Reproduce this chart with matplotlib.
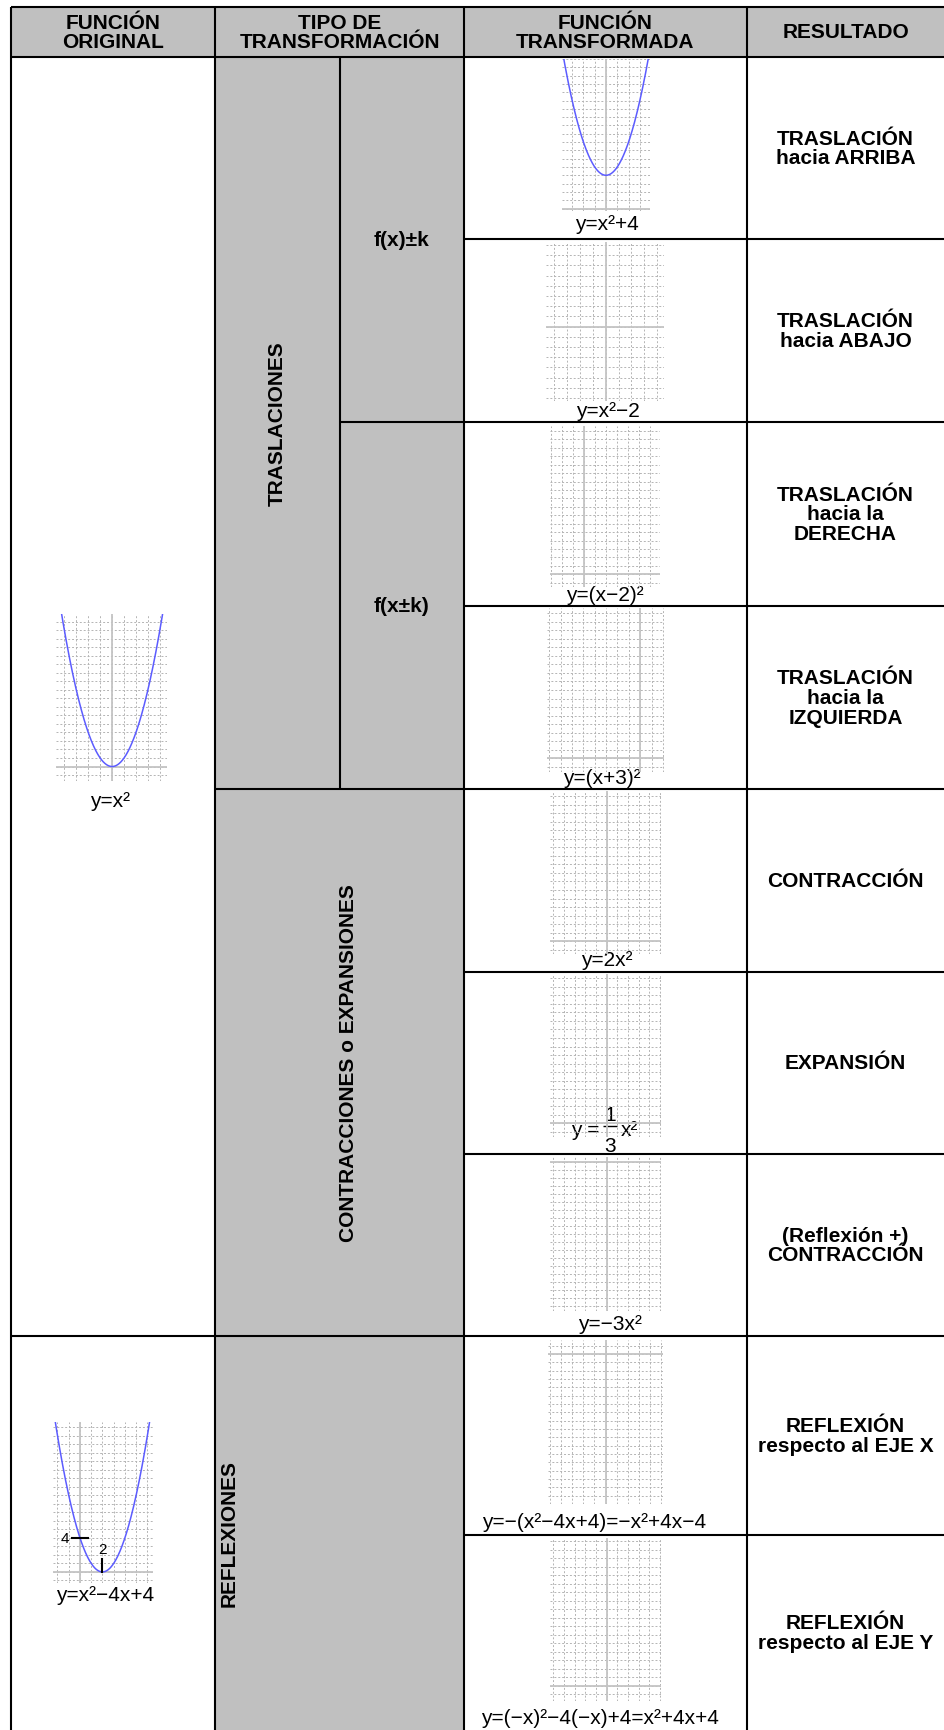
import numpy as np
import matplotlib.pyplot as plt
from matplotlib.patches import Rectangle

plt.rcParams['font.family'] = ['Liberation Sans', 'DejaVu Sans']

W, H = 944, 1731
GRAY = '#c0c0c0'
BLUE = '#5c5cff'
GRID = '#b4b4b4'
AXIS = '#c4c4c4'

# table texts
header_labels = ['FUNCIÓN\nORIGINAL', 'TIPO DE\nTRANSFORMACIÓN',
                 'FUNCIÓN\nTRANSFORMADA', 'RESULTADO']
group_labels = ['TRASLACIONES', 'CONTRACCIONES o EXPANSIONES', 'REFLEXIONES']
sub_labels = ['f(x)±k', 'f(x±k)']
result_labels = ['TRASLACIÓN\nhacia ARRIBA', 'TRASLACIÓN\nhacia ABAJO',
                 'TRASLACIÓN\nhacia la\nDERECHA', 'TRASLACIÓN\nhacia la\nIZQUIERDA',
                 'CONTRACCIÓN', 'EXPANSIÓN', '(Reflexión +)\nCONTRACCIÓN',
                 'REFLEXIÓN\nrespecto al EJE X', 'REFLEXIÓN\nrespecto al EJE Y']
original_labels = ['y=x²', 'y=x²−4x+4']
# None -> drawn as a stacked fraction (y = 1/3 x²)
transformed_labels = ['y=x²+4', 'y=x²−2', 'y=(x−2)²', 'y=(x+3)²', 'y=2x²',
                      None, 'y=−3x²',
                      'y=−(x²−4x+4)=−x²+4x−4', 'y=(−x)²−4(−x)+4=x²+4x+4']
fraction_parts = ['y =', '1', '3', 'x²']

# parabolas y = a(x-h)^2 + k ; only some curves are visible in the picture
original_a, original_h, original_k = [1, 1], [0, 2], [0, 0]
transformed_a = [1, 1, 1, 1, 2, 1 / 3, -3, -1, 1]
transformed_h = [0, 0, 2, -3, 0, 0, 0, 2, -2]
transformed_k = [4, -2, 0, 0, 0, 0, 0, 0, 0]
transformed_curve_shown = [True, False, False, False, False, False, False, False, False]

# visible window of each small graph
original_xlim = [(-4.7, 4.6), (-2.4, 6.5)]
original_ylim = [(-1.7, 17.9), (-1.3, 17.6)]
transformed_xlim = [(-3.9, 3.9), (-4.66, 4.55), (-3.1, 6.9), (-8.2, 2.1), (-5.3, 5.1),
                    (-5.3, 5.1), (-5.3, 5.1), (-5.2, 5.2), (-5.3, 5.1)]
transformed_ylim = [(-0.3, 18.0), (-7.3, 8.3), (-1.5, 17.6), (-1.6, 17.6), (-1.5, 17.6),
                    (-1.6, 17.5), (-18.6, 0.6), (-18.0, 1.7), (-1.8, 17.4)]

# layout in pixels
col_x = [11, 215, 340, 464, 747, 944]
row_y = [8, 58, 240, 423, 607, 790, 973, 1155, 1337, 1536, 1731]
original_box = [(56, 615, 167, 782), (53, 1423, 153, 1584)]
original_text = [(110, 802), (105, 1596)]
transformed_box = [(562, 60, 650, 212), (546, 243, 664, 402), (550, 427, 660, 588),
                   (547, 609, 664, 773), (550, 792, 661, 955), (550, 975, 661, 1138),
                   (550, 1158, 661, 1312), (548, 1341, 663, 1505), (550, 1539, 661, 1702)]
transformed_text = [(607, 225), (608, 412), (605, 596), (602, 779), (607, 961),
                    (603, 1131), (610, 1325), (594, 1523), (600, 1719)]

fig = plt.figure(figsize=(W / 100, H / 100), dpi=100)
ax = fig.add_axes([0, 0, 1, 1])
ax.set_xlim(0, W)
ax.set_ylim(H, 0)
ax.axis('off')

LW = 1.5
BOLD = dict(fontsize=15, fontweight='bold', ha='center', va='center')
LABEL_FS = 15

# gray backgrounds
ax.add_patch(Rectangle((col_x[0], row_y[0]), W - col_x[0], row_y[1] - row_y[0],
                       facecolor=GRAY, edgecolor='none'))
ax.add_patch(Rectangle((col_x[1], row_y[1]), col_x[3] - col_x[1], H - row_y[1],
                       facecolor=GRAY, edgecolor='none'))

# borders
ax.hlines([row_y[0], row_y[1]], col_x[0], W, color='black', lw=LW)
ax.vlines([col_x[0], col_x[1], col_x[3], col_x[4]], row_y[0], H, color='black', lw=LW)
ax.vlines(col_x[2], row_y[1], row_y[5], color='black', lw=LW)
ax.hlines(row_y[2:-1], col_x[3], W, color='black', lw=LW)
ax.hlines(row_y[3], col_x[2], col_x[3], color='black', lw=LW)
ax.hlines([row_y[5], row_y[8]], col_x[1], col_x[3], color='black', lw=LW)
ax.hlines(row_y[8], col_x[0], col_x[1], color='black', lw=LW)

# header
for i, lab in enumerate(header_labels):
    c0, c1 = [(0, 1), (1, 3), (3, 4), (4, 5)][i]
    ax.text((col_x[c0] + col_x[c1]) / 2, 33, lab, linespacing=1.0, **BOLD)

# transformation types
ax.text((col_x[1] + col_x[2]) / 2, (row_y[1] + row_y[5]) / 2, group_labels[0],
        rotation=90, **BOLD)
ax.text(348, (row_y[5] + row_y[8]) / 2, group_labels[1], rotation=90, **BOLD)
ax.text(229, (row_y[8] + row_y[10]) / 2, group_labels[2], rotation=90, **BOLD)
ax.text((col_x[2] + col_x[3]) / 2, row_y[2], sub_labels[0], **BOLD)
ax.text((col_x[2] + col_x[3]) / 2, row_y[4], sub_labels[1], **BOLD)

# results
for i, lab in enumerate(result_labels):
    ax.text((col_x[4] + col_x[5]) / 2, (row_y[i + 1] + row_y[i + 2]) / 2, lab,
            linespacing=1.05, **BOLD)


def small_graph(box, xlim, ylim):
    x0, y0, x1, y1 = box
    g = fig.add_axes([x0 / W, 1 - y1 / H, (x1 - x0) / W, (y1 - y0) / H])
    g.patch.set_visible(False)
    g.set_xlim(*xlim)
    g.set_ylim(*ylim)
    g.set_xticks(np.arange(np.ceil(xlim[0]), np.floor(xlim[1]) + 1))
    g.set_yticks(np.arange(np.ceil(ylim[0]), np.floor(ylim[1]) + 1))
    g.grid(True, linestyle=(0, (2, 2)), color=GRID, linewidth=0.7)
    g.tick_params(length=0, labelbottom=False, labelleft=False)
    for s in g.spines.values():
        s.set_visible(False)
    g.axhline(0, color=AXIS, lw=1.3)
    g.axvline(0, color=AXIS, lw=1.3)
    return g


def draw_parabola(g, a, h, k, xlim):
    xs = np.linspace(xlim[0], xlim[1], 400)
    g.plot(xs, a * (xs - h) ** 2 + k, color=BLUE, lw=1.1)


for i in range(2):
    g = small_graph(original_box[i], original_xlim[i], original_ylim[i])
    draw_parabola(g, original_a[i], original_h[i], original_k[i], original_xlim[i])
    ax.text(*original_text[i], original_labels[i], fontsize=LABEL_FS,
            ha='center', va='center')
    if i == 1:
        g.plot([-0.75, 0.75], [4, 4], color='black', lw=1.5)
        g.plot([original_h[i], original_h[i]], [0, 1.5], color='black', lw=1.5)
        g.text(-1.3, 4, '4', fontsize=11, ha='center', va='center')
        g.text(original_h[i], 2.7, '2', fontsize=11, ha='center', va='center')

for i in range(len(transformed_labels)):
    g = small_graph(transformed_box[i], transformed_xlim[i], transformed_ylim[i])
    if transformed_curve_shown[i]:
        draw_parabola(g, transformed_a[i], transformed_h[i], transformed_k[i],
                      transformed_xlim[i])
    tx, ty = transformed_text[i]
    if transformed_labels[i] is None:
        ax.text(tx - 4, ty, fraction_parts[0], fontsize=LABEL_FS, ha='right', va='center')
        ax.text(tx + 7, ty - 15, fraction_parts[1], fontsize=LABEL_FS, ha='center', va='center')
        ax.text(tx + 7, ty + 16, fraction_parts[2], fontsize=LABEL_FS, ha='center', va='center')
        ax.hlines(ty - 4, tx, tx + 14, color='black', lw=1.0)
        ax.text(tx + 18, ty, fraction_parts[3], fontsize=LABEL_FS, ha='left', va='center')
    else:
        ax.text(tx, ty, transformed_labels[i], fontsize=LABEL_FS,
                ha='center', va='center')

fig.savefig('out.png', dpi=100)
